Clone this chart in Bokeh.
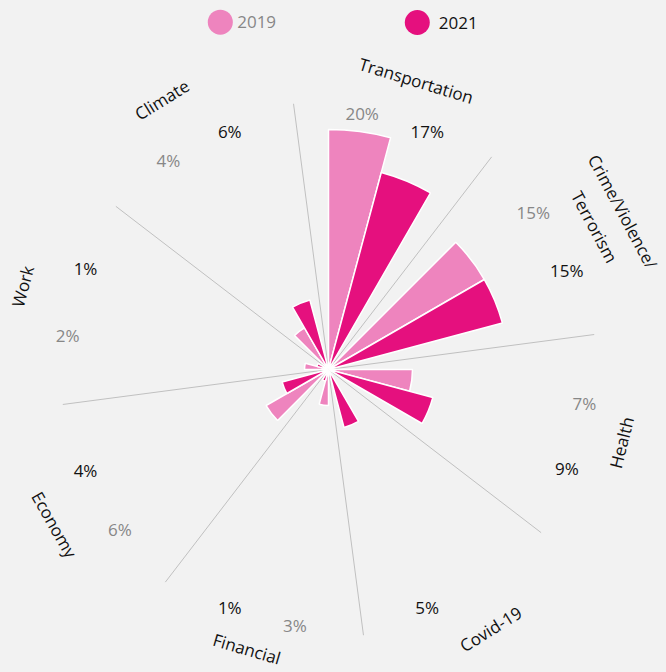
import math
from bokeh.plotting import figure
from bokeh.models import Range1d, ColumnDataSource
from bokeh.core.properties import value
from bokeh.embed import file_html
from bokeh.resources import INLINE

# ---------------- data ----------------
categories = ["Transportation", "Crime/Violence/\nTerrorism", "Health", "Covid-19",
              "Financial", "Economy", "Work", "Climate"]
series = ["2019", "2021"]
values_2019 = [20, 15, 7, None, 3, 6, 2, 4]
values_2021 = [17, 15, 9, 5, 1, 4, 1, 6]

# ---------------- style / layout ----------------
COLORS = {"2019": "#EE84BE", "2021": "#E5107E"}
VALUE_COLORS = {"2019": "#878787", "2021": "#111111"}
PX = 12.0                      # pixels per percentage point
W, H = 666, 672
CX, CY = 328, 369              # chart centre in figure pixels
FONT = value("Open Sans")

START = 97.5                   # first sector boundary (degrees)
SECTOR = 360.0 / len(categories)
BAR = 15.0
PAD = (SECTOR - BAR * len(series)) / 2

# category-label placement tweaks (angle nudge in degrees, radius in px)
LABEL_NUDGE = [-1.9, -1.8, 1.0, 2.0, -1.3, -0.5, -0.2, 1.7]
LABEL_RADIUS = [302, 318, 302, 306, 291, 315, 317, 317]

p = figure(width=W, height=H, output_backend="svg", toolbar_location=None,
           x_range=Range1d(-CX / PX, (W - CX) / PX),
           y_range=Range1d(-(H - CY) / PX, CY / PX),
           x_axis_type=None, y_axis_type=None, min_border=0,
           background_fill_color="#F2F2F2", border_fill_color="#F2F2F2",
           outline_line_color=None)
p.grid.visible = False

# sector divider lines
lx, ly = [], []
for i in range(len(categories)):
    a = math.radians(START - SECTOR * i)
    r = 268 / PX
    lx.append([0, r * math.cos(a)])
    ly.append([0, r * math.sin(a)])
p.multi_line(xs=lx, ys=ly, line_color="#C0C0C0", line_width=1)

# bars
all_vals = {"2019": values_2019, "2021": values_2021}
for j, s in enumerate(series):
    st, en, rad = [], [], []
    tx, ty, tt = [], [], []
    for i, v in enumerate(all_vals[s]):
        upper = START - SECTOR * i - PAD - BAR * j
        lower = upper - BAR
        if v is None:
            continue
        st.append(math.radians(lower))
        en.append(math.radians(upper))
        rad.append(v)
        mid = math.radians((upper + lower) / 2)
        rr = (258 if math.cos(mid) > -0.4 else 263) / PX
        tx.append(rr * math.cos(mid))
        ty.append(rr * math.sin(mid))
        tt.append(f"{v}%")
    src = ColumnDataSource(dict(start=st, end=en, r=rad))
    p.wedge(x=0, y=0, radius="r", start_angle="start", end_angle="end",
            direction="anticlock", source=src, fill_color=COLORS[s],
            line_color="white", line_width=1.5)
    p.text(x=tx, y=ty, text=tt, text_font=FONT, text_font_size="17px",
           text_color=VALUE_COLORS[s], text_align="center", text_baseline="middle")

# category labels
cx_, cy_, ct, ca = [], [], [], []
for i, c in enumerate(categories):
    mid_deg = START - SECTOR * i - SECTOR / 2 + LABEL_NUDGE[i]
    mid = math.radians(mid_deg)
    rr = LABEL_RADIUS[i]
    cx_.append(rr / PX * math.cos(mid))
    cy_.append(rr / PX * math.sin(mid))
    ct.append(c)
    m = ((mid_deg + 180) % 360) - 180
    rot = m - 90 if m > 0 else m + 90
    ca.append(math.radians(rot))
p.text(x=cx_, y=cy_, text=ct, angle=ca, text_font=FONT, text_font_size="17px",
       text_color="#111111", text_align="center", text_baseline="middle",
       text_line_height=1.4)

# legend (marker centre, text start) in figure pixels
leg_px = [((219.8, 21.7), 236.7), ((416.8, 22.0), 438.3)]
for ((fx, fy), tx0), s in zip(leg_px, series):
    x = (fx - CX) / PX
    y = (CY - fy) / PX
    p.scatter(x=[x], y=[y], size=25, marker="circle", fill_color=COLORS[s], line_color=None)
    p.text(x=[(tx0 - CX) / PX], y=[y], text=[s], text_font=FONT, text_font_size="17px",
           text_color=VALUE_COLORS[s], text_align="left", text_baseline="middle")

html = file_html(p, INLINE)
html = html.replace("<head>", "<head><style>html,body{background:#F2F2F2;}</style>", 1)
open("out.html", "w").write(html)
